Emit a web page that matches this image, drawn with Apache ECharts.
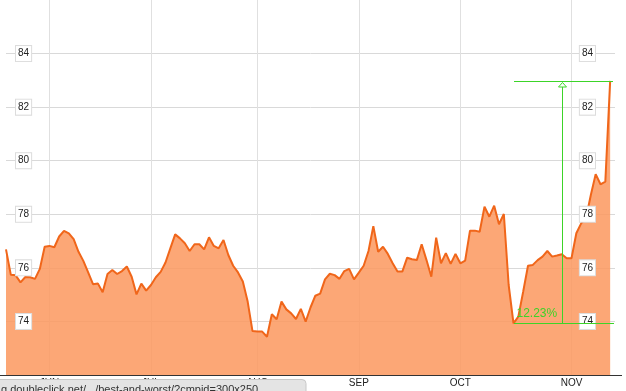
<!DOCTYPE html>
<html>
<head>
<meta charset="utf-8">
<script src="https://cdn.jsdelivr.net/npm/echarts@6/dist/echarts.min.js"></script>
<style>
html,body{margin:0;padding:0;background:#fff;}
#chart{width:626px;height:391px;}
</style>
</head>
<body>
<div id="chart"></div>
<script>
// Daily closing prices (trading days)
const prices = [
  76.69, 75.74, 75.72, 75.46, 75.66, 75.65, 75.59, 75.96, 76.79, 76.82,
  76.77, 77.17, 77.38, 77.29, 77.07, 76.60, 76.26, 75.83, 75.39, 75.42,
  75.09, 75.77, 75.92, 75.77, 75.88, 76.05, 75.67, 75.01, 75.41, 75.15,
  75.36, 75.65, 75.85, 76.20, 76.73, 77.25, 77.10, 76.92, 76.63, 76.88,
  76.88, 76.69, 77.14, 76.82, 76.73, 77.04, 76.48, 76.08, 75.83, 75.49,
  74.74, 73.64, 73.62, 73.62, 73.43, 74.27, 74.08, 74.74, 74.45, 74.30,
  74.09, 74.47, 73.99, 74.52, 74.96, 75.04, 75.57, 75.78, 75.73, 75.59,
  75.88, 75.96, 75.57, 75.82, 76.08, 76.63, 77.56, 76.60, 76.79, 76.52,
  76.17, 75.86, 75.86, 76.38, 76.32, 76.29, 76.88, 76.29, 75.67, 77.13,
  76.17, 76.55, 76.15, 76.52, 76.17, 76.27, 77.39, 77.39, 77.35, 78.28,
  77.91, 78.32, 77.63, 78.01, 75.36, 73.93, 74.18, 75.11, 76.08, 76.11,
  76.29, 76.42, 76.63, 76.42, 76.46, 76.51, 76.36, 76.36, 77.29, 77.66,
  77.85, 78.72, 79.50, 79.12, 79.22, 82.98
];
// Month labels and the trading-day index where each month starts
const monthLabels = ['JUN', 'JUL', 'AUG', 'SEP', 'OCT', 'NOV'];
const monthStartIndex = [9, 30, 52, 73, 94, 117];
// Y tick labels shown
const yTickLabels = [74, 76, 78, 80, 82, 84];
// Gain annotation: from low index to high index
const annoFromIndex = 105;
const annoToIndex = 125;
const annoArrowIndex = 115;
const annoText = '12.23%';
// Status-bar text overlay
const statusText = 'g.doubleclick.net/.../best-and-worst/?cmpid=300x250';

// categories: one per trading day plus one trailing padding slot
const categories = [];
for (let i = 0; i <= prices.length; i++) {
  const m = monthStartIndex.indexOf(i);
  categories.push(m >= 0 ? monthLabels[m] : '');
}
const isMonthStart = (idx) => monthStartIndex.indexOf(idx) >= 0;

const chart = echarts.init(document.getElementById('chart'), null, {renderer: 'canvas'});

const labelBox = {
  inside: true,
  showMinLabel: false,
  showMaxLabel: false,
  color: '#222',
  fontSize: 10,
  fontFamily: 'Arial, "Liberation Sans", sans-serif',
  backgroundColor: '#fff',
  borderColor: '#dcdcdc',
  borderWidth: 1,
  padding: [3, 2, 2, 2],
  formatter: (v) => (yTickLabels.indexOf(v) >= 0 ? String(v) : '')
};
const yBase = {type: 'value', min: 72, max: 86, interval: 2, axisLine: {show: false}, axisTick: {show: false}};

chart.setOption({
  animation: false,
  grid: {left: 6, right: 11, top: 0, bottom: 16, containLabel: false},
  xAxis: {
    type: 'category',
    data: categories,
    boundaryGap: false,
    axisLine: {show: false},
    axisTick: {show: false},
    axisLabel: {
      interval: (idx) => isMonthStart(idx),
      margin: 3,
      color: '#222',
      fontSize: 10,
      fontFamily: 'Arial, "Liberation Sans", sans-serif'
    },
    splitLine: {
      show: true,
      interval: (idx) => isMonthStart(idx),
      lineStyle: {color: '#e0e0e0', width: 1}
    }
  },
  yAxis: [
    Object.assign({}, yBase, {
      position: 'left', axisLabel: {show: false},
      splitLine: {show: true, showMinLine: false, showMaxLine: false, lineStyle: {color: '#d9d9d9', width: 1}}
    }),
    Object.assign({}, yBase, {
      position: 'left', z: 10, axisLabel: Object.assign({}, labelBox, {margin: 10}), splitLine: {show: false}
    }),
    Object.assign({}, yBase, {
      position: 'right', z: 10, axisLabel: Object.assign({}, labelBox, {margin: 20}), splitLine: {show: false}
    })
  ],
  series: [{
    type: 'line',
    data: prices,
    yAxisIndex: 0,
    symbol: 'none',
    lineStyle: {color: '#f0661a', width: 2},
    areaStyle: {color: 'rgb(251,152,95)', opacity: 0.86, origin: 'start'},
    z: 2
  }]
});

function drawOverlay() {
  const toPx = (i, v) => chart.convertToPixel({xAxisIndex: 0, yAxisIndex: 0}, [i, v]);
  const low = toPx(annoFromIndex, prices[annoFromIndex]);
  const high = toPx(annoToIndex, prices[annoToIndex]);
  const arrowX = Math.round(toPx(annoArrowIndex, prices[annoFromIndex])[0]);
  const base = toPx(0, 72);
  const green = '#3cd428';
  const yTop = Math.round(high[1]);
  const yLow = Math.round(low[1]);
  const x0 = Math.round(low[0]);
  const elements = [
    {id: 'axisLine', type: 'rect', shape: {x: 0, y: Math.round(base[1]), width: 622, height: 1},
     style: {fill: '#333'}, z: 10},
    {id: 'annoTop', type: 'rect', shape: {x: x0, y: yTop, width: Math.round(high[0]) + 3 - x0, height: 1},
     style: {fill: green}, z: 20},
    {id: 'annoLow', type: 'rect', shape: {x: x0, y: yLow, width: Math.round(high[0]) + 4 - x0, height: 1},
     style: {fill: green}, z: 20},
    {id: 'annoVert', type: 'rect', shape: {x: arrowX, y: yTop + 5, width: 1, height: yLow - yTop - 5},
     style: {fill: green}, z: 20},
    {id: 'annoArrow', type: 'polygon', shape: {points: [[arrowX + 0.5, yTop + 1.5], [arrowX - 3.5, yTop + 6], [arrowX + 4.5, yTop + 6]]},
     style: {stroke: green, fill: '#fff', lineWidth: 1}, z: 21},
    {id: 'annoText', type: 'text', x: low[0] + 3, y: low[1] - 4,
     style: {text: annoText, fill: green, fontSize: 12, fontFamily: 'Arial, "Liberation Sans", sans-serif', verticalAlign: 'bottom'}, z: 21},
    {id: 'statusBox', type: 'rect', shape: {x: -2, y: 379.5, width: 308, height: 20, r: [0, 4, 0, 0]},
     style: {fill: '#e4e4e4', stroke: '#c8c8c8', lineWidth: 1}, z: 30},
    {id: 'statusText', type: 'text', x: 1, y: 384,
     style: {text: statusText, fill: '#333', fontSize: 11, fontFamily: 'Arial, "Liberation Sans", sans-serif'}, z: 31}
  ];
  chart.setOption({graphic: elements});
}
drawOverlay();
</script>
</body>
</html>
